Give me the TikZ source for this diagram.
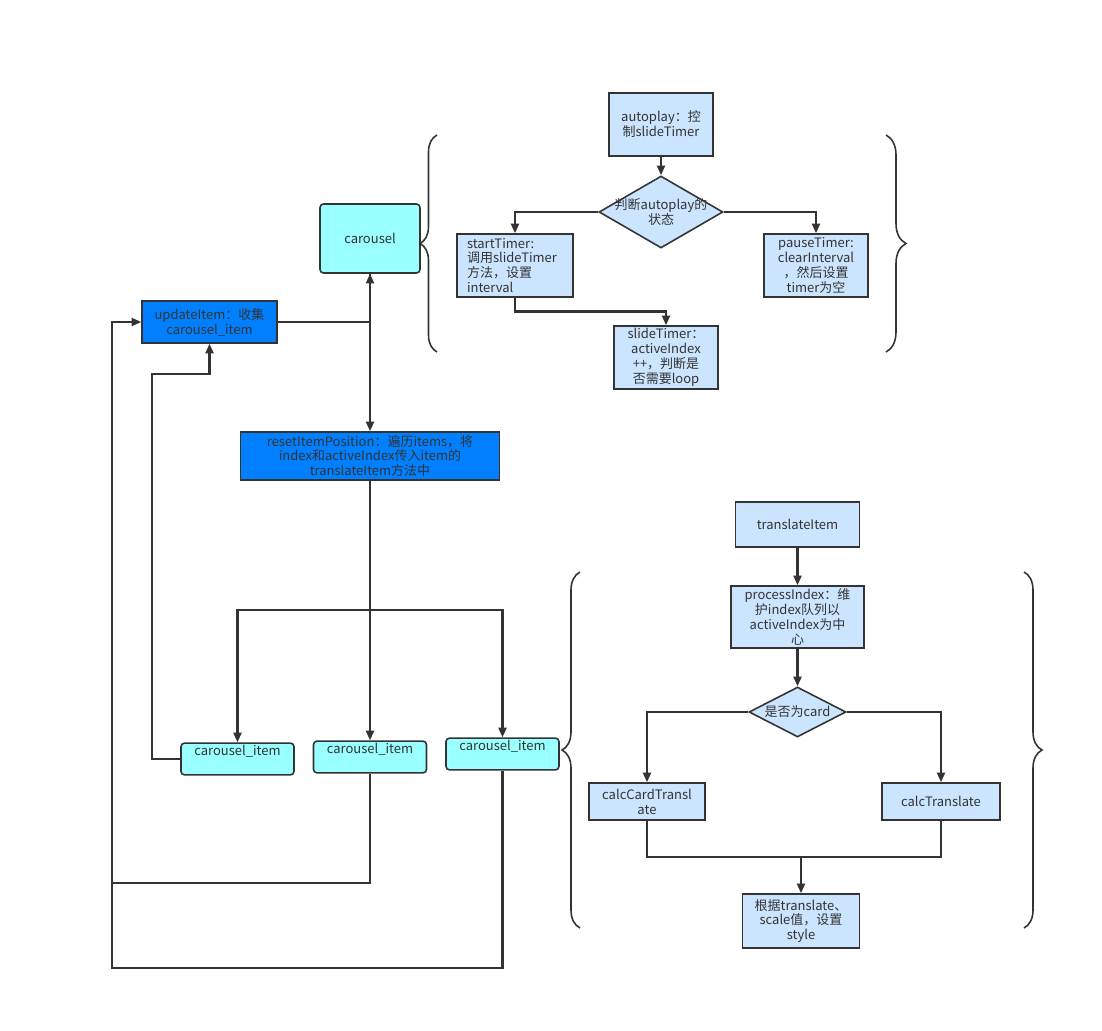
\documentclass[tikz,border=0pt]{standalone}
\usepackage{fontspec}
\setmainfont{Noto Sans CJK SC}
\usepackage{tikz}
\usetikzlibrary{calc,positioning,arrows.meta,shapes.geometric,decorations.pathreplacing}
\usepackage{xcolor}
\definecolor{lightblue}{HTML}{CCE5FF}
\definecolor{cyanbox}{HTML}{99FFFF}
\definecolor{darkblue}{HTML}{007FFF}
\definecolor{linegray}{HTML}{333333}

\begin{document}
\begin{tikzpicture}[
        x=0.02cm, y=-0.02cm,
        font=\fontsize{7.4}{8.5}\selectfont,
        lbstyle/.style={draw=linegray, line width=0.9pt, fill=lightblue, text=linegray, inner sep=0pt, align=center},
        cystyle/.style={draw=linegray, line width=0.9pt, fill=cyanbox, text=linegray, rounded corners=2pt, inner sep=0pt, align=center},
        itemstyle/.style={cystyle, minimum width=2.26cm, text height=7.2pt, text depth=10.9pt},
        dbstyle/.style={draw=linegray, line width=0.9pt, fill=darkblue, text=linegray, inner sep=0pt, align=center},
        decstyle/.style={diamond, draw=linegray, line width=0.9pt, fill=lightblue, inner sep=0pt},
        pathstyle/.style={-{Triangle[length=5.5pt,width=4.6pt]}, draw=linegray, line width=1.2pt},
        linestyle/.style={draw=linegray, line width=1.2pt},
        bracestyle/.style={draw=linegray, line width=0.9pt, decorate}
      ]
        \useasboundingbox (0,0) rectangle (1102,1031);

        % autoplay part
        \node[lbstyle, minimum width=2.08cm, minimum height=1.26cm] (AUTOPLAY)
          at (661,124.5) {autoplay：控\\制slideTimer};
        \node[decstyle, minimum width=2.48cm, minimum height=1.44cm,
              label={[align=center, text=linegray]center:判断autoplay的\\状态}] (JUDGE)
          at (661,212) {};
        \node[lbstyle, minimum width=2.32cm, minimum height=1.26cm, text width=1.92cm, align=left] (STARTTIMER)
          at (515,265.5) {startTimer:\\调用slideTimer\\方法，设置\\interval};
        \node[lbstyle, minimum width=2.08cm, minimum height=1.26cm] (PAUSETIMER)
          at (816,265.5) {pauseTimer:\\clearInterval\\，然后设置\\timer为空};
        \node[lbstyle, minimum width=2.08cm, minimum height=1.26cm] (SLIDETIMER)
          at (666,357.5) {slideTimer：\\activeIndex\\++，判断是\\否需要loop};

        % carousel part
        \node[cystyle, minimum width=2cm, minimum height=1.38cm] (CAROUSEL)
          at (370,238.5) {carousel};
        \node[dbstyle, minimum width=2.7cm, minimum height=0.84cm] (UPDATEITEM)
          at (209.5,322) {updateItem：收集\\carousel\_item};
        \node[dbstyle, minimum width=5.18cm, minimum height=0.96cm] (RESETPOS)
          at (370,456) {resetItemPosition：遍历items，将\\index和activeIndex传入item的\\translateItem方法中};
        \node[itemstyle] (ITEM1) at (237.5,759) {carousel\_item};
        \node[itemstyle] (ITEM2) at (370,757) {carousel\_item};
        \node[itemstyle] (ITEM3) at (502.5,754) {carousel\_item};

        % translateItem part
        \node[lbstyle, minimum width=2.48cm, minimum height=0.9cm] (TRANSLATEITEM)
          at (797.5,524.5) {translateItem};
        \node[lbstyle, minimum width=2.66cm, minimum height=1.24cm] (PROCESSINDEX)
          at (797.5,617) {processIndex：维\\护index队列以\\activeIndex为中\\心};
        \node[decstyle, minimum width=1.94cm, minimum height=1cm,
              label={[text=linegray]center:是否为card}] (ISCARD)
          at (797.5,712) {};
        \node[lbstyle, minimum width=2.32cm, minimum height=0.74cm] (CALCCARD)
          at (647,801.5) {calcCardTransl\\ate};
        \node[lbstyle, minimum width=2.36cm, minimum height=0.74cm] (CALCTRANS)
          at (941,801.5) {calcTranslate};
        \node[lbstyle, minimum width=2.34cm, minimum height=1.08cm] (SETSTYLE)
          at (801,921) {根据translate、\\scale值，设置\\style};

        \coordinate (FORK) at (370,610);
        \coordinate (LOOP1) at (152,374);
        \coordinate (LOOP2) at (112,883);
        \coordinate (LOOP3) at (112,968);
        \coordinate (MERGE) at (801,857);

        % braces
        \draw[bracestyle, decoration={brace, amplitude=0.34cm}] (437,352) -- (437,135);
        \draw[bracestyle, decoration={brace, amplitude=0.4cm}] (886,135) -- (886,352);
        \draw[bracestyle, decoration={brace, amplitude=0.36cm}] (580,928) -- (580,572);
        \draw[bracestyle, decoration={brace, amplitude=0.36cm}] (1024,572) -- (1024,928);

        \draw[pathstyle] (AUTOPLAY.south) -- (JUDGE.north);
        \draw[pathstyle] (JUDGE.west) -| (STARTTIMER.north);
        \draw[pathstyle] (JUDGE.east) -| (PAUSETIMER.north);
        \draw[pathstyle] (STARTTIMER.south) |- ($(STARTTIMER.south)!0.5!(SLIDETIMER.north)$) -| (SLIDETIMER.north);

        \draw[pathstyle] (UPDATEITEM.east) -| (CAROUSEL.south);
        \draw[pathstyle] (CAROUSEL.south) -- (RESETPOS.north);
        \draw[linestyle] (RESETPOS.south) -- (FORK);
        \draw[pathstyle] (FORK) -| (ITEM1.north);
        \draw[pathstyle] (FORK) -- (ITEM2.north);
        \draw[pathstyle] (FORK) -| (ITEM3.north);
        \draw[pathstyle] (ITEM1.west) -| (LOOP1) -| (UPDATEITEM.south);
        \draw[pathstyle] (ITEM2.south) |- (LOOP2) |- (UPDATEITEM.west);
        \draw[linestyle] (ITEM3.south) |- (LOOP3) -- (LOOP2);

        \draw[pathstyle] (TRANSLATEITEM.south) -- (PROCESSINDEX.north);
        \draw[pathstyle] (PROCESSINDEX.south) -- (ISCARD.north);
        \draw[pathstyle] (ISCARD.west) -| (CALCCARD.north);
        \draw[pathstyle] (ISCARD.east) -| (CALCTRANS.north);
        \draw[linestyle] (CALCCARD.south) |- (MERGE);
        \draw[linestyle] (CALCTRANS.south) |- (MERGE);
        \draw[pathstyle] (MERGE) -- (SETSTYLE.north);
      \end{tikzpicture}
\end{document}
